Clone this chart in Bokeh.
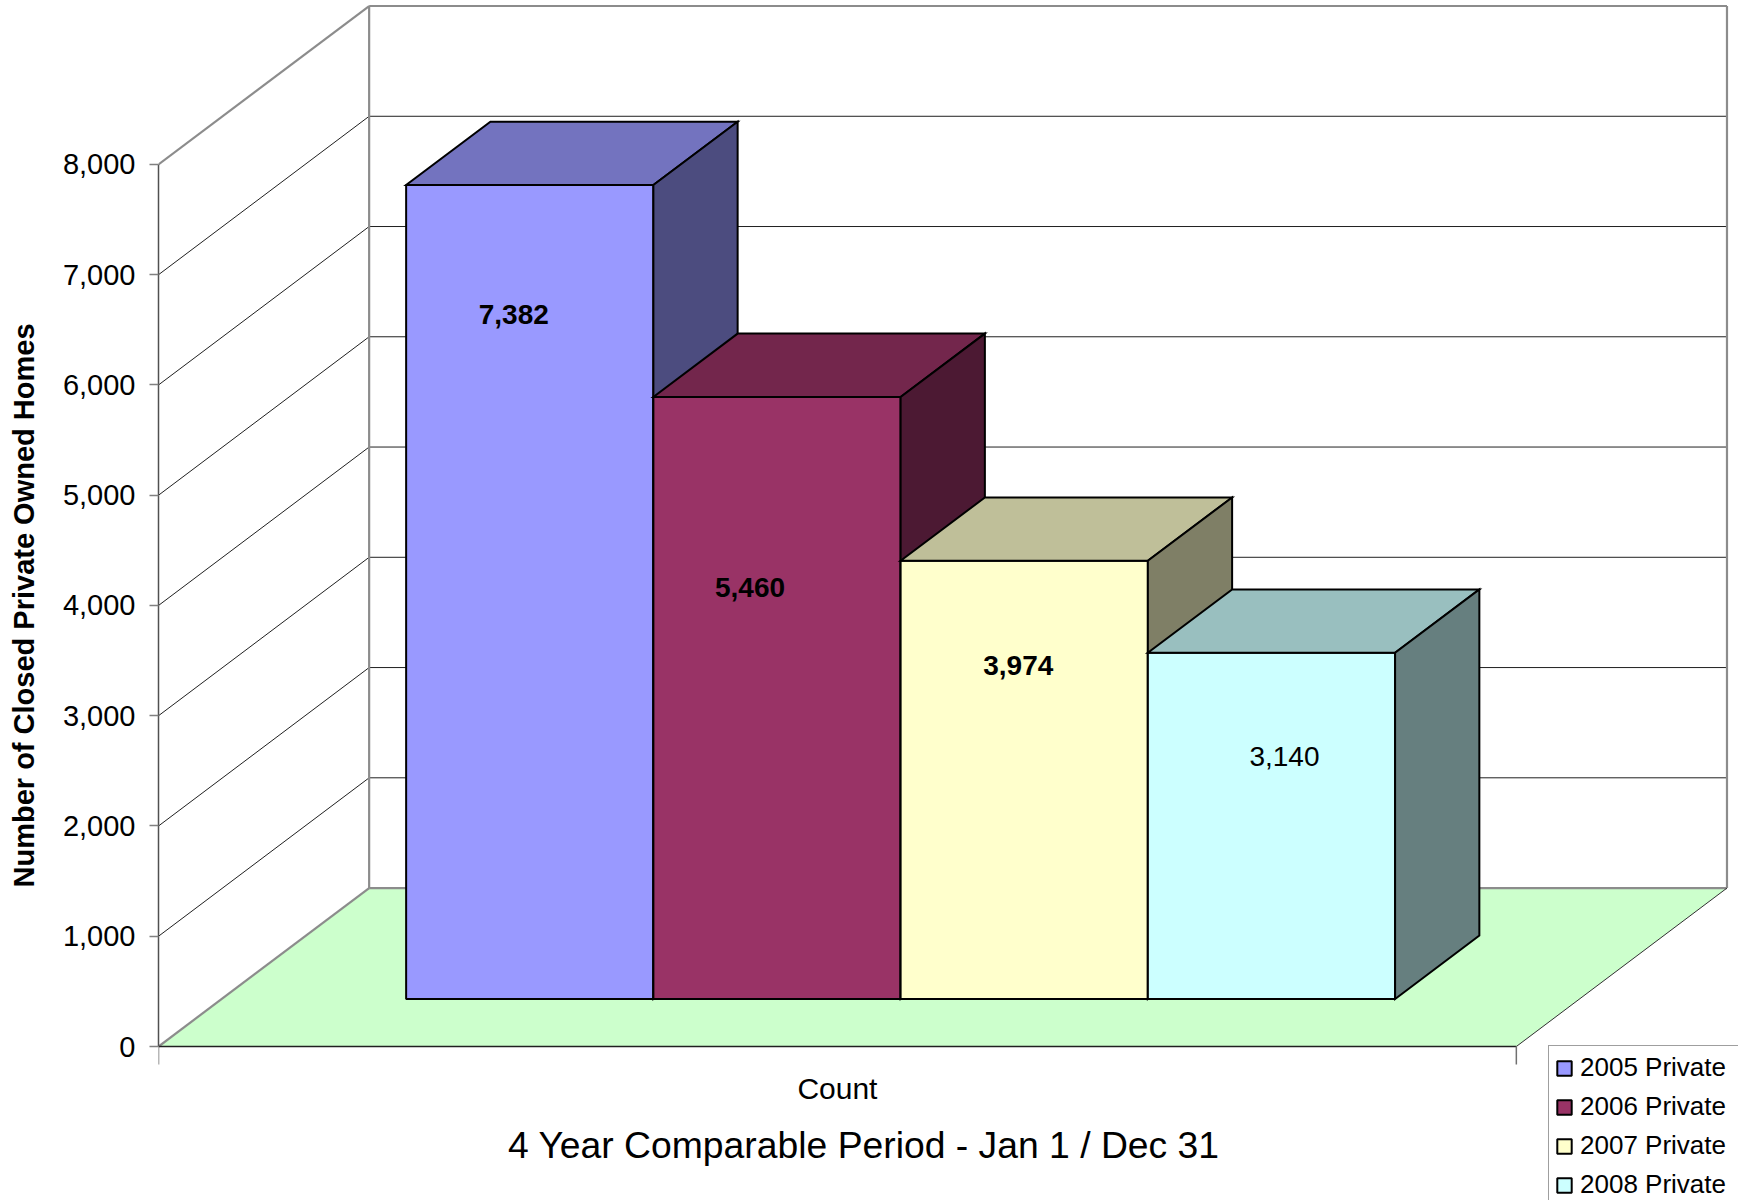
from bokeh.plotting import figure
from bokeh.models import (ColumnDataSource, LinearAxis, FixedTicker, NumeralTickFormatter,
                          Range1d, Legend, LegendItem)
from bokeh.core.properties import value, field
from bokeh.embed import file_html
from bokeh.resources import INLINE

# ---------------- data ----------------
category = "Count"
series = ["2005 Private", "2006 Private", "2007 Private", "2008 Private"]
counts = [7382, 5460, 3974, 3140]
y_ticks = [0, 1000, 2000, 3000, 4000, 5000, 6000, 7000, 8000]
y_axis_title = "Number of Closed Private Owned Homes"
x_axis_title = "4 Year Comparable Period - Jan 1 / Dec 31"

# ---------------- styles ----------------
front_colors = ["#9999FF", "#993366", "#FFFFCC", "#CCFFFF"]
top_colors = ["#7373BF", "#73264C", "#BFBF99", "#99BFBF"]
side_colors = ["#4C4C7F", "#4C1933", "#7F7F66", "#667F7F"]
label_styles = ["bold", "bold", "bold", "normal"]
label_dx = [-16, -27, -6, 13]        # px offsets of the data labels
label_dy = [129, 191, 105, 104]
FONT = "Liberation Sans"

# 3-D geometry (x in bar widths, y in value units)
BAR_W = 1.0
GAP = 0.746
L = len(series) * BAR_W + 2 * GAP
DX = 0.852
DY = 1437.0
Z0, Z1 = 0.3, 0.7
YMAX = y_ticks[-1]
TITLE_CENTER = 2.853

W, H = 1738, 1200
BORDER_L = 158
PX_X = 247.24                     # px per bar width
ZERO_PX = 1046.0                  # distance of value 0 from the top of the frame
Y_TOP = YMAX + DY + 50
K = ZERO_PX / Y_TOP               # px per value unit
Y_BOT = -(H - ZERO_PX) / K
X_END = (W - BORDER_L) / PX_X
TICK_PX = 18

p = figure(width=W, height=H, output_backend="svg", toolbar_location=None,
           x_axis_location=None,
           x_range=Range1d(0, X_END), y_range=Range1d(Y_BOT, Y_TOP),
           min_border_left=BORDER_L, min_border_right=0, min_border_top=0, min_border_bottom=0)
p.grid.visible = False
p.outline_line_color = None
p.background_fill_color = "white"
p.border_fill_color = "white"

# ---------------- walls and floor ----------------
p.patch([0, DX, DX, 0], [0, DY, YMAX + DY, YMAX], fill_color="white", line_color=None)
p.quad(left=[DX], right=[L + DX], bottom=[DY], top=[YMAX + DY], fill_color="white", line_color=None)
p.patch([0, L, L + DX, DX], [0, 0, DY, DY], fill_color="#CCFFCC", line_color=None)

grid_vals = y_ticks[1:-1]
p.segment(x0=[DX] * len(grid_vals), y0=[v + DY for v in grid_vals],
          x1=[L + DX] * len(grid_vals), y1=[v + DY for v in grid_vals],
          line_color="#202020", line_width=1)
p.segment(x0=[0] * len(grid_vals), y0=grid_vals,
          x1=[DX] * len(grid_vals), y1=[v + DY for v in grid_vals],
          line_color="#202020", line_width=1)

# gray wall edges
gx0 = [0, DX, L + DX, DX, DX, 0]
gy0 = [YMAX, YMAX + DY, DY, DY, DY, 0]
gx1 = [DX, L + DX, L + DX, DX, L + DX, DX]
gy1 = [YMAX + DY, YMAX + DY, YMAX + DY, YMAX + DY, DY, DY]
p.segment(x0=gx0, y0=gy0, x1=gx1, y1=gy1, line_color="#8C8C8C", line_width=2.2)
# floor right edge and front edge (category axis line)
p.segment(x0=[L], y0=[0], x1=[L + DX], y1=[DY], line_color="#303030", line_width=1)
p.segment(x0=[0], y0=[0], x1=[L], y1=[0], line_color="#202020", line_width=1.3)
# category axis end ticks
p.segment(x0=[0, L], y0=[0, 0], x1=[0, L], y1=[-TICK_PX / K] * 2,
          line_color="#707070", line_width=1.5)

# ---------------- bars ----------------
front_renderers = []
for i, v in enumerate(counts):
    x0 = GAP + i * BAR_W
    x1 = x0 + BAR_W
    fr = p.quad(left=[x0 + Z0 * DX], right=[x1 + Z0 * DX], bottom=[Z0 * DY], top=[v + Z0 * DY],
                fill_color=front_colors[i], line_color="black", line_width=2)
    p.patch([x0 + Z0 * DX, x1 + Z0 * DX, x1 + Z1 * DX, x0 + Z1 * DX],
            [v + Z0 * DY, v + Z0 * DY, v + Z1 * DY, v + Z1 * DY],
            fill_color=top_colors[i], line_color="black", line_width=2, line_join="miter")
    p.patch([x1 + Z0 * DX, x1 + Z1 * DX, x1 + Z1 * DX, x1 + Z0 * DX],
            [Z0 * DY, Z1 * DY, v + Z1 * DY, v + Z0 * DY],
            fill_color=side_colors[i], line_color="black", line_width=2, line_join="miter")
    front_renderers.append(fr)

# data labels
lab_src = ColumnDataSource(dict(
    x=[GAP + (i + 0.5) * BAR_W + Z0 * DX for i in range(len(counts))],
    y=[v + Z0 * DY for v in counts],
    text=[f"{v:,}" for v in counts],
    dx=label_dx, dy=label_dy, style=label_styles))
p.text(x="x", y="y", text="text", source=lab_src, x_offset="dx", y_offset="dy",
       text_font=value(FONT), text_font_size="28px", text_font_style=field("style"),
       text_align="center", text_baseline="middle", text_color="black")

# category label and axis title below the floor
p.text(x=[L / 2], y=[0], text=[category], y_offset=42,
       text_font=value(FONT), text_font_size="30px", text_align="center",
       text_baseline="middle", text_color="black")
p.text(x=[TITLE_CENTER], y=[0], text=[x_axis_title], y_offset=98,
       text_font=value(FONT), text_font_size="37.3px", text_align="center",
       text_baseline="middle", text_color="black")

# ---------------- value axis ----------------
ya = p.yaxis[0]
ya.bounds = (0, YMAX)
ya.ticker = FixedTicker(ticks=y_ticks)
ya.formatter = NumeralTickFormatter(format="0,0")
ya.axis_line_color = "#505050"
ya.axis_line_width = 1.5
ya.major_tick_line_color = "#808080"
ya.major_tick_line_width = 1.5
ya.major_tick_out = 9
ya.major_tick_in = 0
ya.minor_tick_line_color = None
ya.major_label_standoff = 14
ya.major_label_text_font = FONT
ya.major_label_text_font_size = "29px"
ya.major_label_text_color = "black"

# value-axis title, centred on the value range
yt = LinearAxis(bounds=(0, YMAX), ticker=FixedTicker(ticks=[YMAX / 2]),
                major_label_overrides={YMAX / 2: y_axis_title},
                major_label_orientation="vertical")
yt.axis_line_color = None
yt.major_tick_line_color = None
yt.minor_tick_line_color = None
yt.major_tick_out = 0
yt.major_tick_in = 0
yt.minor_tick_out = 0
yt.major_label_standoff = 19
yt.major_label_text_font = FONT
yt.major_label_text_font_style = "bold"
yt.major_label_text_font_size = "29px"
yt.major_label_text_color = "black"
p.add_layout(yt, "left")

# ---------------- legend ----------------
legend = Legend(items=[LegendItem(label=s, renderers=[front_renderers[i]]) for i, s in enumerate(series)],
                location=(1390, -7), orientation="vertical",
                label_text_font=FONT, label_text_font_size="26px", label_text_color="black",
                glyph_width=18, glyph_height=18, label_height=30, label_width=175,
                spacing=8, padding=6, label_standoff=7, margin=0,
                border_line_color="#404040", border_line_width=1,
                background_fill_color="white", background_fill_alpha=1.0)
p.add_layout(legend)

open("out.html", "w").write(file_html(p, INLINE))
